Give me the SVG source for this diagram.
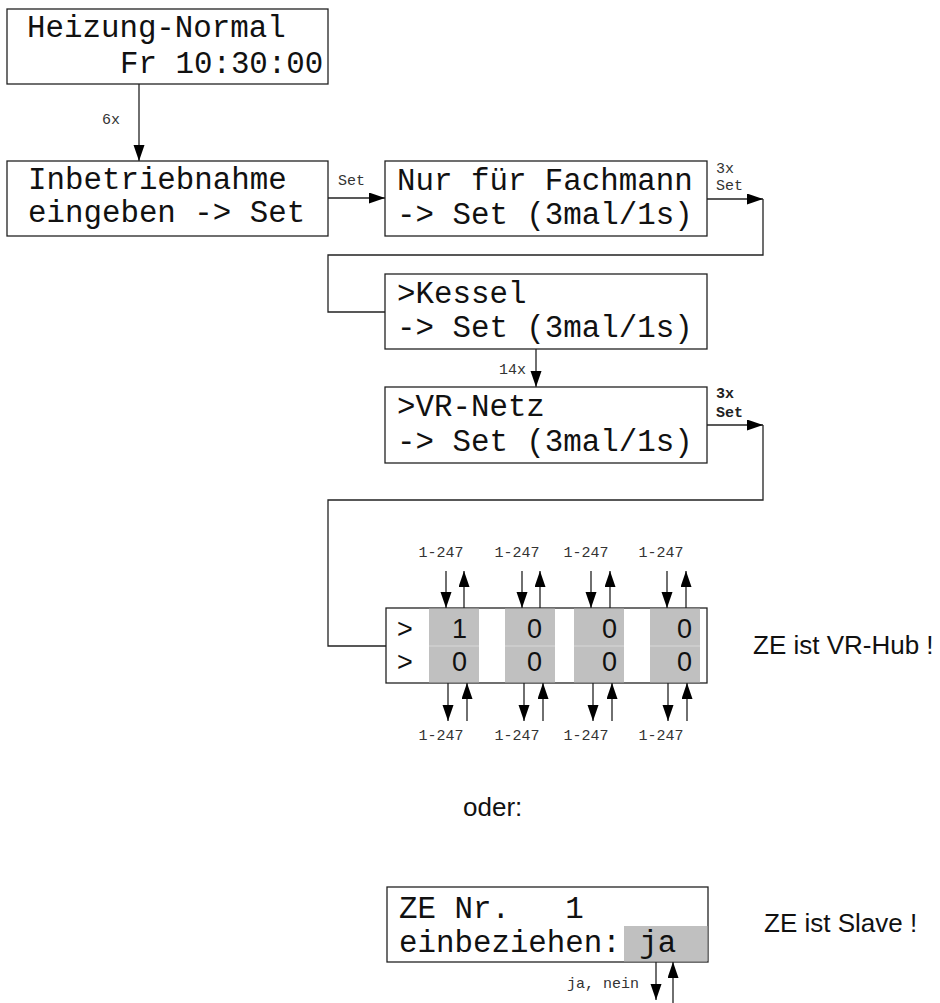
<svg xmlns="http://www.w3.org/2000/svg" width="940" height="1003" viewBox="0 0 940 1003">
<style>
  .box { fill: #fff; stroke: #222; stroke-width: 1.3; }
  .cell { fill: #c0c0c0; stroke: none; }
  .mono { font-family: "Liberation Mono", "DejaVu Sans Mono", monospace; font-size: 30.8px; fill: #111; white-space: pre; }
  .small { font-family: "Liberation Mono", "DejaVu Sans Mono", monospace; font-size: 15px; fill: #333; white-space: pre; }
  .smallb { font-family: "Liberation Mono", "DejaVu Sans Mono", monospace; font-size: 15px; font-weight: bold; fill: #222; }
  .sans { font-family: "Liberation Sans", Arial, sans-serif; font-size: 27px; fill: #111; }
  .note { font-family: "Liberation Sans", Arial, sans-serif; font-size: 26px; fill: #111; }
  .line { fill: none; stroke: #222; stroke-width: 1.3; }
  .arr { fill: none; stroke: #222; stroke-width: 1.3; marker-end: url(#ah); }
</style>
<defs>
  <marker id="ah" markerUnits="userSpaceOnUse" markerWidth="17" markerHeight="12" refX="16" refY="5.5" orient="auto">
    <path d="M0,0 L16,5.5 L0,11 z" fill="#000"/>
  </marker>
</defs>

<g id="connectors">
  <path class="arr" d="M139,84 V161"/>
  <text class="small" x="102" y="124">6x</text>
  <path class="arr" d="M328,198 H385"/>
  <text class="small" x="338" y="185">Set</text>
  <path class="arr" d="M707,199 H763"/>
  <path class="line" d="M763,199 V255 H328 V312 H385"/>
  <text class="small" x="716" y="173">3x</text>
  <text class="small" x="716" y="190">Set</text>
  <path class="arr" d="M536,349 V387"/>
  <text class="small" x="526" y="374" text-anchor="end">14x</text>
  <path class="arr" d="M707,425 H763"/>
  <path class="line" d="M763,425 V500 H328 V646 H386"/>
  <text class="smallb" x="716" y="398">3x</text>
  <text class="smallb" x="716" y="417">Set</text>
</g>

<g id="node-heizung">
  <rect class="box" x="7" y="9" width="321" height="75"/>
  <text class="mono" x="27" y="37">Heizung-Normal</text>
  <text class="mono" x="120" y="73">Fr 10:30:00</text>
</g>

<g id="node-inbetriebnahme">
  <rect class="box" x="7" y="161" width="321" height="75"/>
  <text class="mono" x="28" y="189">Inbetriebnahme</text>
  <text class="mono" x="28" y="222">eingeben -&gt; Set</text>
</g>

<g id="node-fachmann">
  <rect class="box" x="385" y="161" width="322" height="75"/>
  <text class="mono" x="397" y="190">Nur für Fachmann</text>
  <text class="mono" x="397" y="224">-&gt; Set (3mal/1s)</text>
</g>

<g id="node-kessel">
  <rect class="box" x="385" y="274" width="322" height="75"/>
  <text class="mono" x="397" y="303">&gt;Kessel</text>
  <text class="mono" x="397" y="337">-&gt; Set (3mal/1s)</text>
</g>

<g id="node-vrnetz">
  <rect class="box" x="385" y="387" width="322" height="76"/>
  <text class="mono" x="397" y="416">&gt;VR-Netz</text>
  <text class="mono" x="397" y="451">-&gt; Set (3mal/1s)</text>
</g>

<g id="node-vrhub">
  <rect class="box" x="386" y="608" width="321" height="75"/>
  <rect class="cell" x="429" y="608.6" width="50" height="73.8"/>
  <rect class="cell" x="505" y="608.6" width="50" height="73.8"/>
  <rect class="cell" x="574" y="608.6" width="50" height="73.8"/>
  <rect class="cell" x="650" y="608.6" width="50" height="73.8"/>
  <path d="M429,646 H479 M505,646 H555 M574,646 H624 M650,646 H700" stroke="#d8d8d8" stroke-width="1"/>
  <text class="sans" x="397" y="638">&gt;</text>
  <text class="sans" x="397" y="671">&gt;</text>
  <text class="sans" x="452" y="638">1</text>
  <text class="sans" x="527" y="638">0</text>
  <text class="sans" x="602" y="638">0</text>
  <text class="sans" x="677" y="638">0</text>
  <text class="sans" x="452" y="671">0</text>
  <text class="sans" x="527" y="671">0</text>
  <text class="sans" x="602" y="671">0</text>
  <text class="sans" x="677" y="671">0</text>
  <g id="hub-arrows">
    <path class="arr" d="M446,571 V608"/>
    <path class="arr" d="M464,608 V571"/>
    <path class="arr" d="M522,571 V608"/>
    <path class="arr" d="M540,608 V571"/>
    <path class="arr" d="M591,571 V608"/>
    <path class="arr" d="M610,608 V571"/>
    <path class="arr" d="M667,571 V608"/>
    <path class="arr" d="M686,608 V571"/>
    <path class="arr" d="M448,683 V721"/>
    <path class="arr" d="M467,721 V683"/>
    <path class="arr" d="M524,683 V721"/>
    <path class="arr" d="M543,721 V683"/>
    <path class="arr" d="M593,683 V721"/>
    <path class="arr" d="M612,721 V683"/>
    <path class="arr" d="M668,683 V721"/>
    <path class="arr" d="M687,721 V683"/>
  </g>
  <text class="small" x="441" y="557" text-anchor="middle">1-247</text>
  <text class="small" x="517" y="557" text-anchor="middle">1-247</text>
  <text class="small" x="586" y="557" text-anchor="middle">1-247</text>
  <text class="small" x="661" y="557" text-anchor="middle">1-247</text>
  <text class="small" x="441" y="740" text-anchor="middle">1-247</text>
  <text class="small" x="517" y="740" text-anchor="middle">1-247</text>
  <text class="small" x="586" y="740" text-anchor="middle">1-247</text>
  <text class="small" x="661" y="740" text-anchor="middle">1-247</text>
</g>

<text class="note" x="753" y="654">ZE ist VR-Hub !</text>
<text class="note" x="463" y="816">oder:</text>

<g id="node-slave">
  <rect class="box" x="387" y="887" width="321" height="75"/>
  <rect class="cell" x="624" y="926" width="83.4" height="35.4"/>
  <text class="mono" x="399" y="918">ZE Nr.   1</text>
  <text class="mono" x="399" y="952">einbeziehen: ja</text>
  <path class="arr" d="M656,962 V1000"/>
  <path class="arr" d="M673,1003 V962"/>
  <text class="small" x="639" y="988" text-anchor="end">ja, nein</text>
</g>

<text class="note" x="764" y="932">ZE ist Slave !</text>
</svg>
